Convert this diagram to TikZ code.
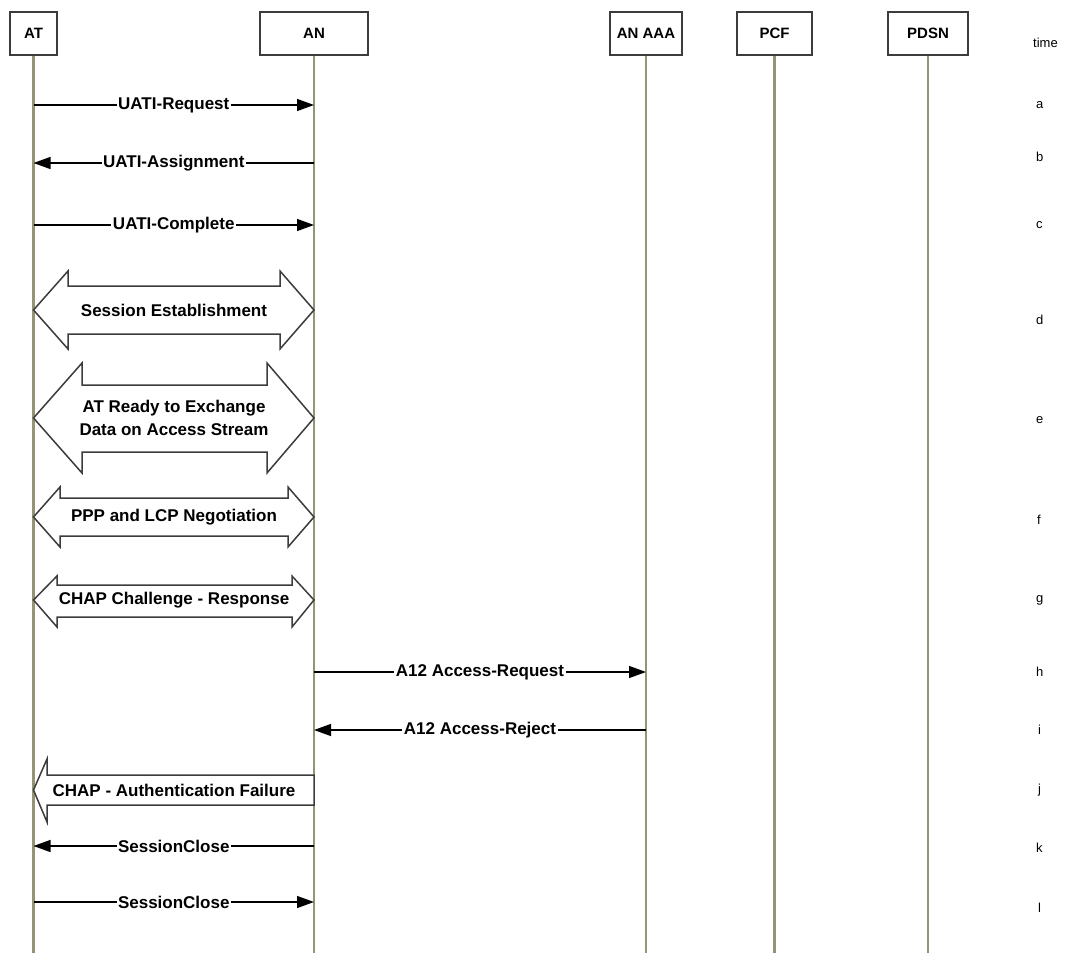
\documentclass[tikz,border=0pt]{standalone}
\usepackage{fontspec}
\setmainfont{Liberation Sans}
\usetikzlibrary{arrows.meta}
\definecolor{lifegray}{RGB}{150,148,118}
\definecolor{boxgray}{RGB}{60,60,60}
\tikzset{
  entity/.style={draw=boxgray, line width=1.5pt, fill=white, minimum height=43pt, inner sep=0pt, font=\fontsize{15}{18}\selectfont\bfseries},
  life/.style={draw=lifegray, line width=2.4pt},
  msg/.style={draw, line width=1.4pt, -{Triangle[length=17pt,width=12pt]}},
  lbl/.style={fill=white, inner sep=1.5pt, font=\fontsize{17}{20}\selectfont\bfseries},
  txt/.style={inner sep=0pt, align=center, font=\fontsize{17}{23}\selectfont\bfseries},
  tick/.style={anchor=west, inner sep=0pt, font=\fontsize{13}{15}\selectfont},
  block/.style={draw=boxgray, line width=1.5pt, fill=white, line join=miter},
}
\begin{document}
\begin{tikzpicture}[x=1pt,y=-1pt]
\useasboundingbox (0,0) rectangle (1071,953);
% entities
\node[entity, minimum width=47pt] (AT) at (33.5,33.5) {AT};
\node[entity, minimum width=108pt] (AN) at (314,33.5) {AN};
\node[entity, minimum width=72pt] (AAA) at (646,33.5) {AN AAA};
\node[entity, minimum width=75pt] (PCF) at (774.5,33.5) {PCF};
\node[entity, minimum width=80pt] (PDSN) at (928,33.5) {PDSN};
\coordinate (bottom) at (0,953);
\path[life] (AT) -- (AT |- bottom);
\path[life] (AN) -- (AN |- bottom);
\path[life] (AAA) -- (AAA |- bottom);
\path[life] (PCF) -- (PCF |- bottom);
\path[life] (PDSN) -- (PDSN |- bottom);
% time column
\node[tick] (time) at (1033,43) {time};
\node[tick] (ta) at (1036,105) {a};
\node[tick] (tb) at (1036,157) {b};
\node[tick] (tc) at (1036,225) {c};
\node[tick] (td) at (1036,320) {d};
\node[tick] (te) at (1036,420) {e};
\node[tick] (tf) at (1037,520) {f};
\node[tick] (tg) at (1036,600) {g};
\node[tick] (th) at (1036,672) {h};
\node[tick] (ti) at (1038,730) {i};
\node[tick] (tj) at (1038,790) {j};
\node[tick] (tk) at (1036,848) {k};
\node[tick] (tl) at (1038,908) {l};
% message rows
\coordinate (ma) at (0,105);
\coordinate (mb) at (0,163);
\coordinate (mc) at (0,225);
\coordinate (mh) at (0,672);
\coordinate (mi) at (0,730);
\coordinate (mk) at (0,846);
\coordinate (ml) at (0,902);
\path[msg] (AT |- ma) -- node[lbl] {UATI-Request} (AN |- ma);
\path[msg] (AN |- mb) -- node[lbl] {UATI-Assignment} (AT |- mb);
\path[msg] (AT |- mc) -- node[lbl] {UATI-Complete} (AN |- mc);
\path[msg] (AN |- mh) -- node[lbl] {A12 Access-Request} (AAA |- mh);
\path[msg] (AAA |- mi) -- node[lbl] {A12 Access-Reject} (AN |- mi);
\path[msg] (AN |- mk) -- node[lbl] {SessionClose} (AT |- mk);
\path[msg] (AT |- ml) -- node[lbl] {SessionClose} (AN |- ml);
% block arrows
\draw[block] (33.5,310) -- (68,271) -- (68,286) -- (280,286) -- (280,271) -- (314,310) -- (280,349) -- (280,334) -- (68,334) -- (68,349) -- cycle;
\node[txt] (sess) at (174,310) {Session Establishment};
\draw[block] (33.5,418) -- (82,363) -- (82,385) -- (267,385) -- (267,363) -- (314,418) -- (267,473) -- (267,452) -- (82,452) -- (82,473) -- cycle;
\node[txt] (ready) at (174,418) {AT Ready to Exchange\\Data on Access Stream};
\draw[block] (33.5,517) -- (60,487) -- (60,498) -- (288,498) -- (288,487) -- (314,517) -- (288,547) -- (288,536) -- (60,536) -- (60,547) -- cycle;
\node[txt] (ppp) at (174,517) {PPP and LCP Negotiation};
\draw[block] (33.5,600) -- (57,576) -- (57,585) -- (292,585) -- (292,576) -- (314,600) -- (292,627) -- (292,617) -- (57,617) -- (57,627) -- cycle;
\node[txt] (chap) at (174,600) {CHAP Challenge - Response};
\draw[block] (33.5,790) -- (47,759) -- (47,775) -- (314,775) -- (314,805) -- (47,805) -- (47,822) -- cycle;
\node[txt] (fail) at (174,790) {CHAP - Authentication Failure};
\end{tikzpicture}
\end{document}
